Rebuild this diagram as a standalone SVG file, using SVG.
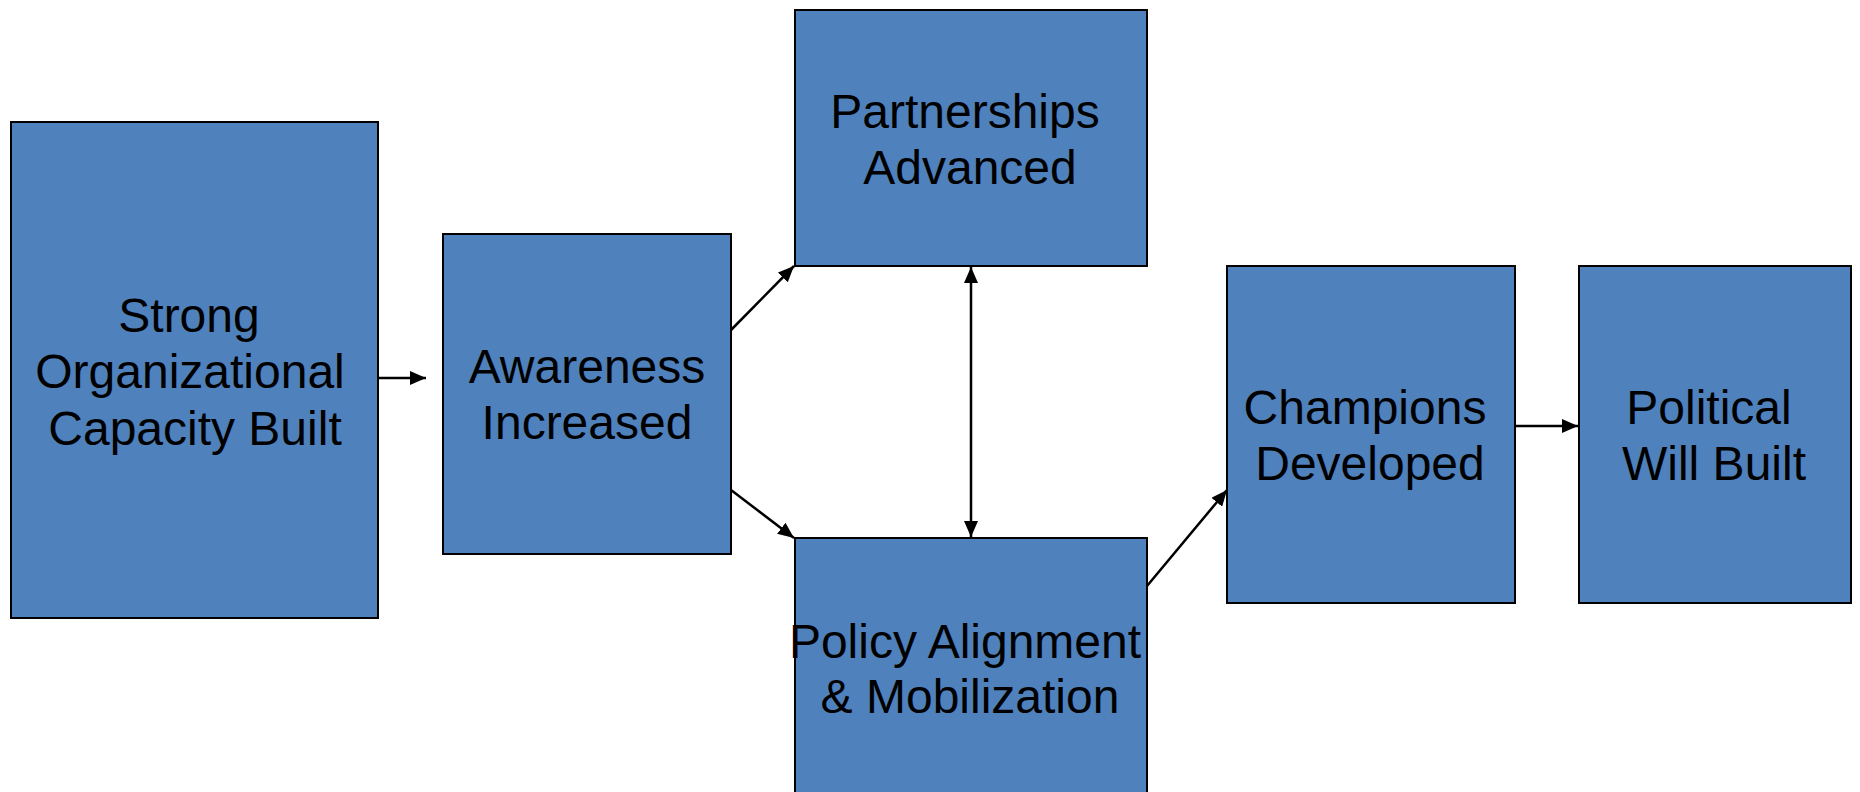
<svg xmlns="http://www.w3.org/2000/svg" width="1860" height="792" viewBox="0 0 1860 792">
<style>
.box{fill:#4F81BD;stroke:#000;stroke-width:2}
.t{font-family:"Liberation Sans",Arial,sans-serif;font-size:48px;fill:#000;text-anchor:middle}
.c{stroke:#000;stroke-width:2.5;fill:none}
</style>
<defs>
<marker id="ah" markerUnits="userSpaceOnUse" markerWidth="18" markerHeight="14" refX="16" refY="7" orient="auto">
<path d="M0,0 L16,7 L0,14 Z" fill="#000"/>
</marker>
<marker id="as" markerUnits="userSpaceOnUse" markerWidth="18" markerHeight="14" refX="0" refY="7" orient="auto">
<path d="M16,0 L0,7 L16,14 Z" fill="#000"/>
</marker>
</defs>
<rect width="1860" height="792" fill="#fff"/>
<g id="strong">
<rect class="box" x="11" y="122" width="367" height="496"/>
<text class="t" x="189" y="332">Strong</text>
<text class="t" x="190" y="388">Organizational</text>
<text class="t" x="195" y="445">Capacity Built</text>
</g>
<g id="awareness">
<rect class="box" x="443" y="234" width="288" height="320"/>
<text class="t" x="587" y="383">Awareness</text>
<text class="t" x="587" y="439">Increased</text>
</g>
<g id="partnerships">
<rect class="box" x="795" y="10" width="352" height="256"/>
<text class="t" x="965" y="128">Partnerships</text>
<text class="t" x="970" y="184">Advanced</text>
</g>
<g id="policy">
<rect class="box" x="795" y="538" width="352" height="270"/>
<text class="t" x="965" y="658">Policy Alignment</text>
<text class="t" x="970" y="713">&amp; Mobilization</text>
</g>
<g id="champions">
<rect class="box" x="1227" y="266" width="288" height="337"/>
<text class="t" x="1365" y="424">Champions</text>
<text class="t" x="1370" y="480">Developed</text>
</g>
<g id="political">
<rect class="box" x="1579" y="266" width="272" height="337"/>
<text class="t" x="1709" y="424">Political</text>
<text class="t" x="1714" y="480">Will Built</text>
</g>
<g id="connectors">
<line class="c" x1="379" y1="378" x2="426" y2="378" marker-end="url(#ah)"/>
<line class="c" x1="731" y1="330" x2="794" y2="266" marker-end="url(#ah)"/>
<line class="c" x1="731" y1="490" x2="794" y2="538" marker-end="url(#ah)"/>
<line class="c" x1="971" y1="267" x2="971" y2="537" marker-start="url(#as)" marker-end="url(#ah)"/>
<line class="c" x1="1147" y1="586" x2="1227" y2="490" marker-end="url(#ah)"/>
<line class="c" x1="1515" y1="426" x2="1578" y2="426" marker-end="url(#ah)"/>
</g>
</svg>
